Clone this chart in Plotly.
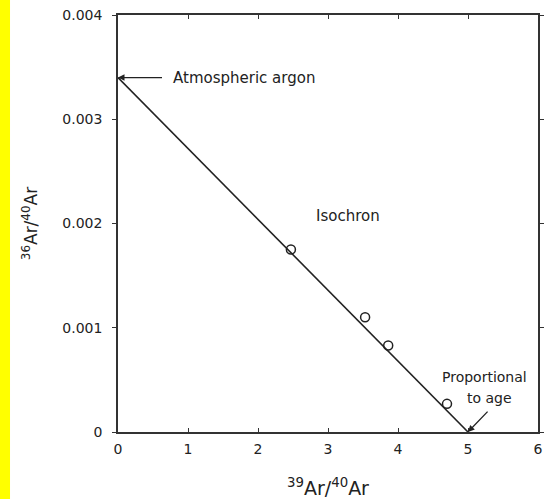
import plotly.graph_objects as go

# Data
sample_x = [2.47, 3.53, 3.86, 4.70]
sample_y = [0.00175, 0.00110, 0.00083, 0.00027]
isochron_x = [0, 5]
isochron_y = [0.0034, 0]
x_ticks = [0, 1, 2, 3, 4, 5, 6]
y_ticks = [0, 0.001, 0.002, 0.003, 0.004]
y_tick_labels = ["0", "0.001", "0.002", "0.003", "0.004"]

FONT = "DejaVu Sans, Liberation Sans, Arial, sans-serif"

fig = go.Figure()
fig.add_trace(go.Scatter(x=isochron_x, y=isochron_y, mode="lines",
                         line=dict(color="#222", width=1.6), showlegend=False))
fig.add_trace(go.Scatter(x=sample_x, y=sample_y, mode="markers",
                         marker=dict(symbol="circle-open", size=9, color="#222",
                                     line=dict(width=1.5)), showlegend=False))

fig.update_layout(
    width=550, height=499,
    margin=dict(l=118, r=12, t=15, b=67),
    paper_bgcolor="white", plot_bgcolor="white",
    font=dict(family=FONT, color="#222", size=13),
    xaxis=dict(range=[0, 6], tickvals=x_ticks, showgrid=False, zeroline=False,
               showline=True, linecolor="#333", linewidth=1.5, mirror="ticks",
               ticks="inside", ticklen=4, tickcolor="#333", automargin=False,
               ticklabelstandoff=3,
               title=dict(text="<sup>39</sup>Ar/<sup>40</sup>Ar", font=dict(size=19), standoff=26),
               tickfont=dict(size=14)),
    yaxis=dict(range=[0, 0.004], tickvals=y_ticks, ticktext=y_tick_labels,
               showgrid=False, zeroline=False,
               showline=True, linecolor="#333", linewidth=1.5, mirror="ticks",
               ticks="outside", ticklen=4, tickcolor="#333", automargin=False,
               ticklabelstandoff=7,
               title=dict(text="<sup>36</sup>Ar/<sup>40</sup>Ar", font=dict(size=17), standoff=20),
               tickfont=dict(size=14)),
    shapes=[dict(type="rect", xref="paper", yref="paper",
                 x0=-0.2810, x1=-0.2571, y0=-0.2, y1=1.05,
                 fillcolor="#ffff00", line=dict(width=0), layer="below")],
    annotations=[
        dict(x=0, y=0.0034, ax=0.65, ay=0.0034, axref="x", ayref="y",
             xref="x", yref="y", text="", showarrow=True, arrowhead=2,
             arrowsize=1, arrowwidth=1.3, arrowcolor="#222"),
        dict(x=0.76, y=0.0034, xref="x", yref="y", text="Atmospheric argon",
             showarrow=False, xanchor="left", font=dict(size=15)),
        dict(x=3.29, y=0.00207, xref="x", yref="y", text="Isochron",
             showarrow=False, font=dict(size=15)),
        dict(x=5.24, y=0.00053, xref="x", yref="y", text="Proportional",
             showarrow=False, font=dict(size=14)),
        dict(x=5.3, y=0.00033, xref="x", yref="y", text="to age",
             showarrow=False, font=dict(size=14)),
        dict(x=5.0, y=0.0, ax=5.3, ay=0.00021, axref="x", ayref="y",
             xref="x", yref="y", text="", showarrow=True, arrowhead=2,
             arrowsize=1, arrowwidth=1.3, arrowcolor="#222"),
    ],
)

fig.write_html("out.html", config={"displayModeBar": False},
               post_script="document.body.style.margin='0';")
